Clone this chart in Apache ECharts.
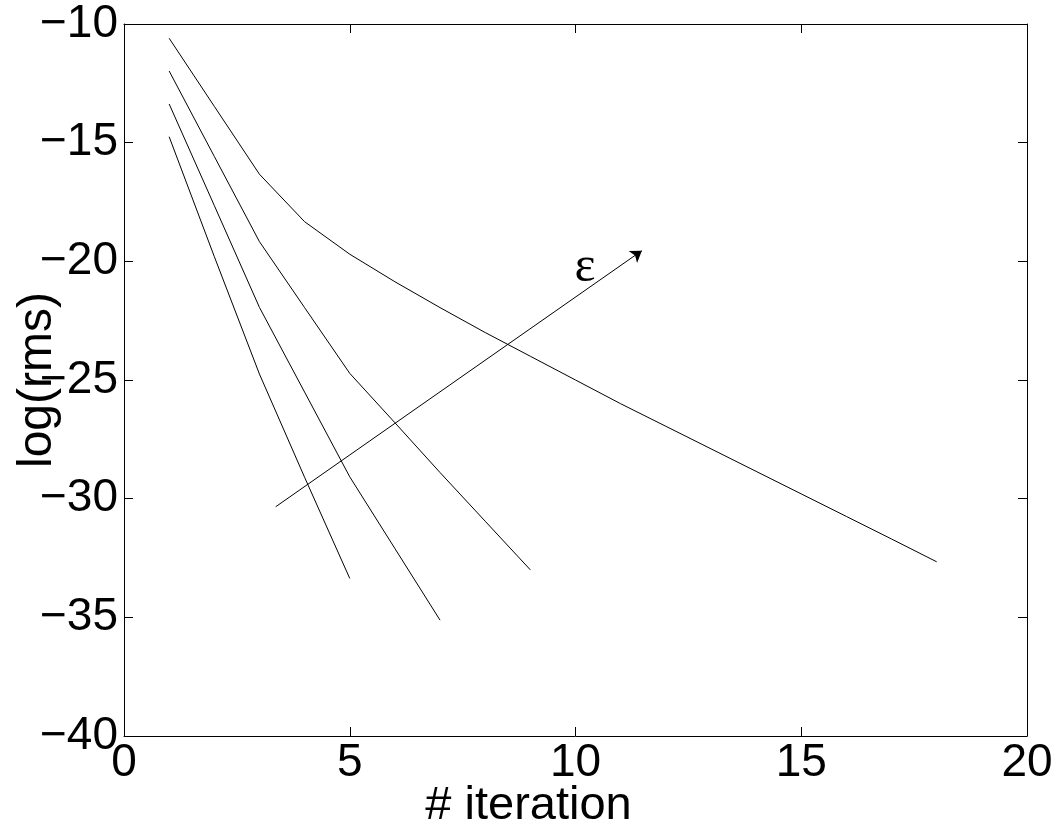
<!DOCTYPE html>
<html>
<head>
<meta charset="utf-8">
<script src="https://cdn.jsdelivr.net/npm/echarts@6/dist/echarts.min.js"></script>
<style>
  html, body { margin: 0; padding: 0; background: #fff; }
  #chart { width: 1059px; height: 828px; }
</style>
</head>
<body>
<div id="chart"></div>
<script>
// iterations and log(rms) per curve
const iterA = [1, 2, 3, 4, 5, 6, 7, 8, 9, 10, 11, 12, 13, 14, 15, 16, 17, 18];
const rmsA = [-10.6, -13.47, -16.33, -18.33, -19.7, -20.86, -21.95, -23.0, -24.0, -25.0,
              -26.0, -26.95, -27.9, -28.85, -29.8, -30.75, -31.7, -32.66];
const iterB = [1, 2, 3, 4, 5, 6, 7, 8, 9];
const rmsB = [-11.98, -15.58, -19.17, -21.95, -24.72, -26.8, -28.9, -30.95, -33.0];
const iterC = [1, 2, 3, 4, 5, 6, 7];
const rmsC = [-13.37, -17.65, -21.94, -25.51, -29.08, -32.1, -35.12];
const iterD = [1, 2, 3, 4, 5];
const rmsD = [-14.75, -19.8, -24.75, -29.1, -33.36];

// annotation arrow (start, end) and its label position
const arrowFrom = [3.36, -30.34];
const arrowTo = [11.47, -19.55];
const epsPos = [10.21, -20.28];

const pairs = (xs, ys) => xs.map((x, i) => [x, ys[i]]);

const myChart = echarts.init(document.getElementById('chart'));
const font = 'Liberation Sans, Arial, Helvetica, sans-serif';

const mkLine = (xs, ys) => ({
  type: 'line',
  data: pairs(xs, ys),
  symbol: 'none',
  lineStyle: { color: '#000', width: 1 },
  silent: true,
  animation: false
});

const seriesA = mkLine(iterA, rmsA);
seriesA.markLine = {
  silent: true,
  animation: false,
  symbol: ['none', 'arrow'],
  symbolSize: 11,
  label: { show: false },
  lineStyle: { color: '#000', width: 1, type: 'solid' },
  data: [[{ coord: arrowFrom }, { coord: arrowTo }]]
};
seriesA.markPoint = {
  silent: true,
  animation: false,
  symbol: 'circle',
  symbolSize: 1,
  itemStyle: { color: 'rgba(0,0,0,0)' },
  label: {
    show: true,
    position: 'inside',
    formatter: 'ε',
    fontFamily: 'Liberation Serif, Times New Roman, serif',
    fontSize: 50,
    color: '#000'
  },
  data: [{ coord: epsPos }]
};

const tickStyle = { inside: true, length: 9, lineStyle: { color: '#000', width: 1 } };

const option = {
  animation: false,
  backgroundColor: '#fff',
  grid: { left: 124, right: 32, top: 24, bottom: 92, outerBoundsMode: 'none', containLabel: false },
  xAxis: [
    {
      type: 'value', min: 0, max: 20, interval: 5,
      axisLine: { show: true, onZero: false, lineStyle: { color: '#000', width: 1 } },
      axisTick: tickStyle,
      splitLine: { show: false },
      axisLabel: { color: '#000', fontFamily: font, fontSize: 46, margin: 4 },
      name: '# iteration',
      nameLocation: 'middle',
      nameGap: 47,
      nameMoveOverlap: false,
      nameTextStyle: { color: '#000', fontFamily: font, fontSize: 47, padding: [0, 94, 0, 0] }
    },
    {
      type: 'value', min: 0, max: 20, interval: 5, position: 'top',
      axisLine: { show: true, onZero: false, lineStyle: { color: '#000', width: 1 } },
      axisTick: tickStyle,
      splitLine: { show: false },
      axisLabel: { show: false }
    }
  ],
  yAxis: [
    {
      type: 'value', min: -40, max: -10, interval: 5,
      axisLine: { show: true, onZero: false, lineStyle: { color: '#000', width: 1 } },
      axisTick: tickStyle,
      splitLine: { show: false },
      axisLabel: {
        color: '#000', fontFamily: font, fontSize: 46, margin: 6,
        formatter: v => String(v).replace('-', '\u2212')
      },
      name: 'log(rms)',
      nameLocation: 'middle',
      nameRotate: 90,
      nameGap: 62,
      nameMoveOverlap: false,
      nameTextStyle: { color: '#000', fontFamily: font, fontSize: 48 }
    },
    {
      type: 'value', min: -40, max: -10, interval: 5, position: 'right',
      axisLine: { show: true, onZero: false, lineStyle: { color: '#000', width: 1 } },
      axisTick: tickStyle,
      splitLine: { show: false },
      axisLabel: { show: false }
    }
  ],
  series: [
    seriesA,
    mkLine(iterB, rmsB),
    mkLine(iterC, rmsC),
    mkLine(iterD, rmsD)
  ]
};

option && myChart.setOption(option);
</script>
</body>
</html>
